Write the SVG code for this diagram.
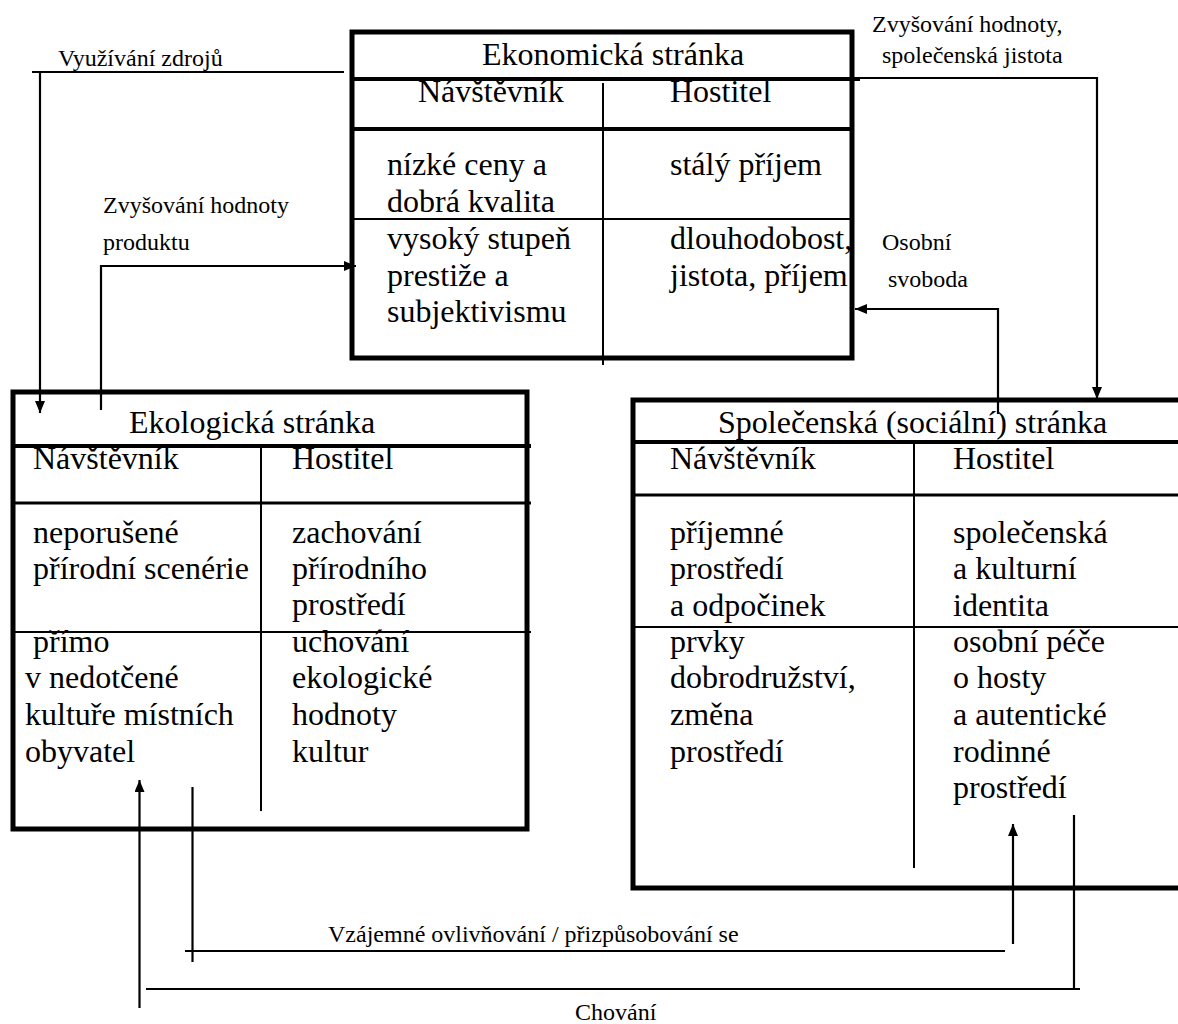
<svg xmlns="http://www.w3.org/2000/svg" width="1178" height="1024" viewBox="0 0 1178 1024">
<defs>
<style>
text{font-family:"Liberation Serif","Times New Roman",serif;fill:#000}
.t{font-size:32px}
.l{font-size:24px}
.box{fill:none;stroke:#000;stroke-width:5}
.hd{stroke:#000;stroke-width:4}
.hd2{stroke:#000;stroke-width:3}
.thin{stroke:#000;stroke-width:2}
.con{fill:none;stroke:#000;stroke-width:2.2}
</style>
<marker id="ah" viewBox="0 0 12 10" refX="12" refY="5" markerWidth="12" markerHeight="10" markerUnits="userSpaceOnUse" orient="auto">
<path d="M0,0 L12,5 L0,10 Z" fill="#000"/>
</marker>
</defs>
<rect width="1178" height="1024" fill="#fff"/>

<g id="ekonomicka">
<rect class="box" x="352" y="32" width="500" height="326"/>
<line class="hd" x1="352" y1="79" x2="860" y2="79"/>
<line class="hd" x1="352" y1="129" x2="852" y2="129"/>
<line class="thin" x1="352" y1="219" x2="852" y2="219"/>
<line class="thin" x1="603" y1="83" x2="603" y2="365"/>
<text class="t" x="482" y="65">Ekonomická stránka</text>
<text class="t" x="418" y="102">Návštěvník</text>
<text class="t" x="670" y="102">Hostitel</text>
<text class="t" x="387" y="175">nízké ceny a</text>
<text class="t" x="387" y="212">dobrá kvalita</text>
<text class="t" x="670" y="175">stálý příjem</text>
<text class="t" x="387" y="249">vysoký stupeň</text>
<text class="t" x="387" y="286">prestiže a</text>
<text class="t" x="387" y="322">subjektivismu</text>
<text class="t" x="670" y="249">dlouhodobost,</text>
<text class="t" x="670" y="286">jistota, příjem</text>
</g>

<g id="ekologicka">
<rect class="box" x="13" y="392" width="514" height="437"/>
<line class="hd" x1="13" y1="446" x2="531" y2="446"/>
<line class="hd2" x1="13" y1="503" x2="531" y2="503"/>
<line class="thin" x1="13" y1="632" x2="531" y2="632"/>
<line class="thin" x1="261" y1="446" x2="261" y2="811"/>
<text class="t" x="129" y="433">Ekologická stránka</text>
<text class="t" x="33" y="469">Návštěvník</text>
<text class="t" x="292" y="469">Hostitel</text>
<text class="t" x="33" y="543">neporušené</text>
<text class="t" x="33" y="579">přírodní scenérie</text>
<text class="t" x="292" y="543">zachování</text>
<text class="t" x="292" y="579">přírodního</text>
<text class="t" x="292" y="615">prostředí</text>
<text class="t" x="33" y="652">přímo</text>
<text class="t" x="25" y="688">v nedotčené</text>
<text class="t" x="25" y="725">kultuře místních</text>
<text class="t" x="25" y="762">obyvatel</text>
<text class="t" x="292" y="652">uchování</text>
<text class="t" x="292" y="688">ekologické</text>
<text class="t" x="292" y="725">hodnoty</text>
<text class="t" x="292" y="762">kultur</text>
</g>

<g id="spolecenska">
<rect class="box" x="633" y="400" width="560" height="488"/>
<line class="hd" x1="633" y1="442" x2="1178" y2="442"/>
<line class="hd2" x1="633" y1="495" x2="1178" y2="495"/>
<line class="thin" x1="633" y1="627" x2="1178" y2="627"/>
<line class="thin" x1="914" y1="442" x2="914" y2="868"/>
<text class="t" x="718" y="433">Společenská (sociální) stránka</text>
<text class="t" x="670" y="469">Návštěvník</text>
<text class="t" x="953" y="469">Hostitel</text>
<text class="t" x="670" y="543">příjemné</text>
<text class="t" x="670" y="579">prostředí</text>
<text class="t" x="670" y="616">a odpočinek</text>
<text class="t" x="670" y="652">prvky</text>
<text class="t" x="670" y="688">dobrodružství,</text>
<text class="t" x="670" y="725">změna</text>
<text class="t" x="670" y="762">prostředí</text>
<text class="t" x="953" y="543">společenská</text>
<text class="t" x="953" y="579">a kulturní</text>
<text class="t" x="953" y="616">identita</text>
<text class="t" x="953" y="652">osobní péče</text>
<text class="t" x="953" y="688">o hosty</text>
<text class="t" x="953" y="725">a autentické</text>
<text class="t" x="953" y="762">rodinné</text>
<text class="t" x="953" y="798">prostředí</text>
</g>

<g id="connectors">
<polyline class="con" points="344,72 32,72"/>
<polyline class="con" points="40,72 40,413" marker-end="url(#ah)"/>
<polyline class="con" points="101,410 101,266 356,266" marker-end="url(#ah)"/>
<polyline class="con" points="856,78 1097,78 1097,399" marker-end="url(#ah)"/>
<polyline class="con" points="998,414 998,309 855,309" marker-end="url(#ah)"/>
<polyline class="con" points="139.5,1008 139.5,780" marker-end="url(#ah)"/>
<polyline class="con" points="192.5,787 192.5,962"/>
<polyline class="con" points="185,951 1005,951"/>
<polyline class="con" points="1013,944 1013,824" marker-end="url(#ah)"/>
<polyline class="con" points="1074,815 1074,989"/>
<polyline class="con" points="146,989 1080,989"/>
</g>

<g id="labels">
<text class="l" x="58" y="66">Využívání zdrojů</text>
<text class="l" x="103" y="213">Zvyšování hodnoty</text>
<text class="l" x="103" y="250">produktu</text>
<text class="l" x="872" y="32">Zvyšování hodnoty,</text>
<text class="l" x="882" y="63">společenská jistota</text>
<text class="l" x="882" y="250">Osobní</text>
<text class="l" x="888" y="287">svoboda</text>
<text class="l" x="328" y="942">Vzájemné ovlivňování / přizpůsobování se</text>
<text class="l" x="575" y="1020">Chování</text>
</g>
</svg>
